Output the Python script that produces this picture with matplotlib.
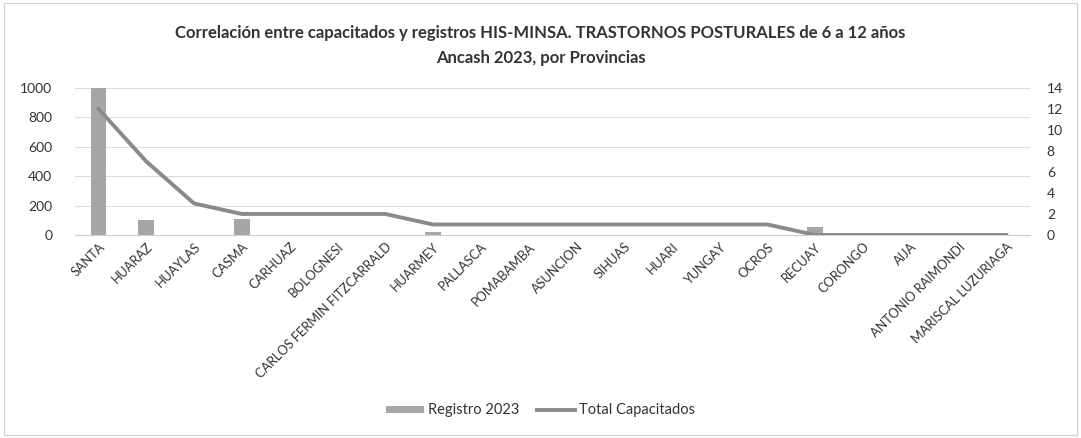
import matplotlib

matplotlib.use("Agg")
import matplotlib.pyplot as plt
from matplotlib.lines import Line2D
from matplotlib.patches import Patch

plt.rcParams["font.family"] = ["Lato", "DejaVu Sans"]

provincias = ["SANTA", "HUARAZ", "HUAYLAS", "CASMA", "CARHUAZ", "BOLOGNESI",
              "CARLOS FERMIN FITZCARRALD", "HUARMEY", "PALLASCA", "POMABAMBA",
              "ASUNCION", "SIHUAS", "HUARI", "YUNGAY", "OCROS", "RECUAY",
              "CORONGO", "AIJA", "ANTONIO RAIMONDI", "MARISCAL LUZURIAGA"]
registro_2023 = [1000, 100, 0, 110, 0, 0, 0, 18, 0, 0, 0, 0, 0, 0, 0, 55, 0, 0, 0, 0]
total_capacitados = [12, 7, 3, 2, 2, 2, 2, 1, 1, 1, 1, 1, 1, 1, 1, 0, 0, 0, 0, 0]

BAR_COLOR = "#a6a6a6"
LINE_COLOR = "#8a8a8a"
TEXT_COLOR = "#333333"

fig = plt.figure(figsize=(10.81, 4.38), dpi=100)
fig.patch.set_facecolor("white")
# marco fino del gráfico
fig.add_artist(plt.Rectangle((0.004, 0.006), 0.992, 0.988, transform=fig.transFigure,
                             fill=False, edgecolor="#d0d0d0", linewidth=0.8))

ax = fig.add_axes([0.069, 0.4635, 0.884, 0.336])
x = range(len(provincias))
ax.bar(x, registro_2023, width=0.33, color=BAR_COLOR, zorder=2)
ax.set_ylim(0, 1000)
ax.set_yticks(range(0, 1001, 200))
ax.set_xlim(-0.5, len(provincias) - 0.5)
ax.set_xticks(list(x))
ax.set_xticklabels(provincias, rotation=45, ha="right", rotation_mode="anchor",
                   fontsize=9.2, color=TEXT_COLOR)
ax.grid(axis="y", color="#dcdcdc", linewidth=0.8, zorder=0)
ax.tick_params(axis="y", length=0, labelsize=10, colors=TEXT_COLOR, pad=16)
ax.tick_params(axis="x", length=0, colors=TEXT_COLOR, pad=4)
for s in ax.spines.values():
    s.set_visible(False)
ax.spines["bottom"].set_visible(True)
ax.spines["bottom"].set_color("#d0d0d0")

ax2 = ax.twinx()
ax2.plot(list(x), total_capacitados, color=LINE_COLOR, linewidth=2.8, zorder=3)
ax2.set_ylim(0, 14)
ax2.set_yticks(range(0, 15, 2))
ax2.tick_params(axis="y", length=0, labelsize=10, colors=TEXT_COLOR, pad=12)
for s in ax2.spines.values():
    s.set_visible(False)

fig.text(0.5, 0.925, "Correlación entre capacitados y registros HIS-MINSA. TRASTORNOS POSTURALES de 6 a 12 años",
         ha="center", va="center", fontsize=12, fontweight="bold", color=TEXT_COLOR)
fig.text(0.5, 0.868, "Ancash 2023, por Provincias",
         ha="center", va="center", fontsize=12, fontweight="bold", color=TEXT_COLOR)

handles = [Patch(facecolor=BAR_COLOR, edgecolor="none"),
           Line2D([0], [0], color=LINE_COLOR, linewidth=2.8)]
fig.legend(handles, ["Registro 2023", "Total Capacitados"], loc="center",
           bbox_to_anchor=(0.5, 0.063), ncol=2, frameon=False, fontsize=10.5,
           handlelength=2.6, handleheight=0.4, columnspacing=1.2, handletextpad=0.3,
           labelcolor=TEXT_COLOR)

fig.savefig("out.png", dpi=100)
